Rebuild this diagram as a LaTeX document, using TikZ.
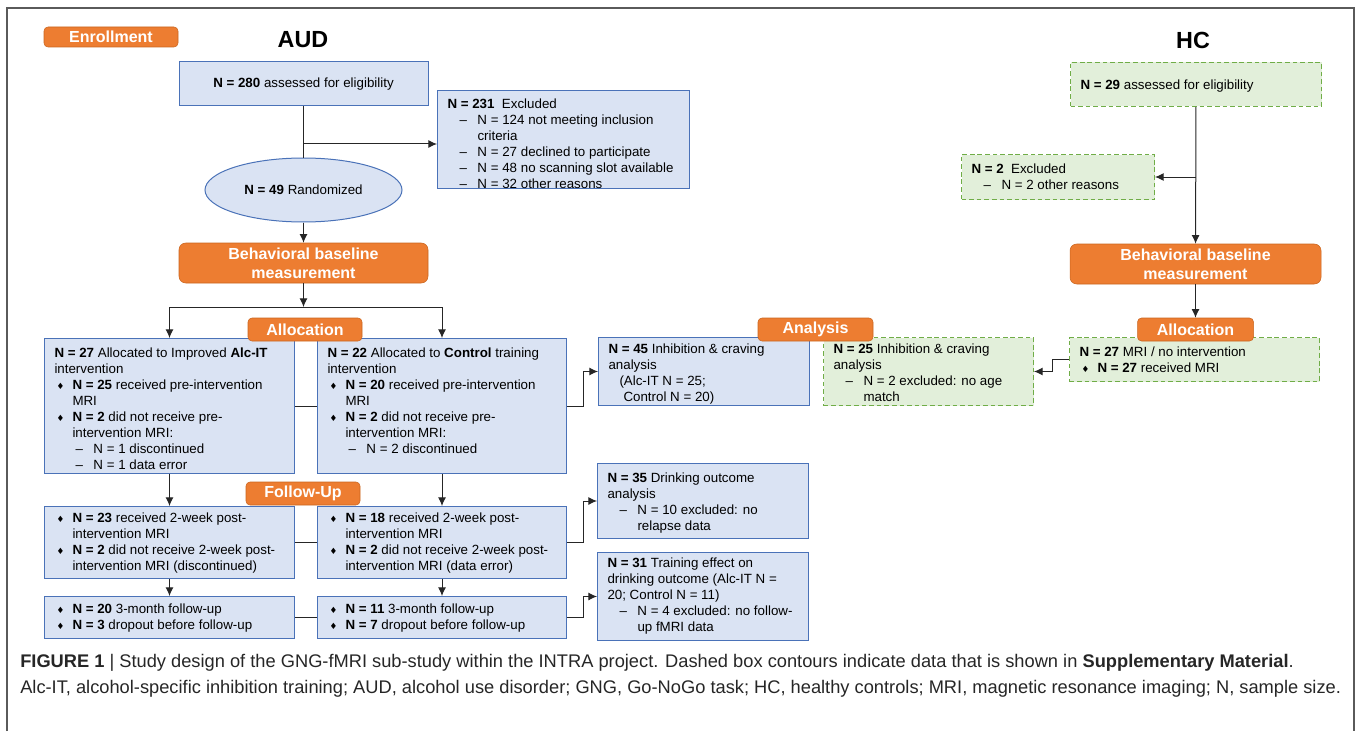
\documentclass[tikz,border=0pt]{standalone}
\usepackage{fontspec}
\setmainfont{Liberation Sans}
\newfontfamily\symfont{DejaVu Sans}
\usetikzlibrary{shapes.geometric, positioning, arrows.meta}

\definecolor{audfill}{HTML}{DAE3F3}
\definecolor{audline}{HTML}{4A72B8}
\definecolor{hcfill}{HTML}{E2EFDA}
\definecolor{hcline}{HTML}{70AD47}
\definecolor{tagfill}{HTML}{ED7D31}
\definecolor{tagline}{HTML}{C9651F}
\definecolor{framegray}{HTML}{5A5A5A}

\newcommand{\nb}[1]{\textbf{N = #1}}
\newcommand{\bl}{\makebox[13.5pt][l]{\hspace*{1.5pt}{\symfont\fontsize{6.5}{6.5}\selectfont ♦}}}
\newcommand{\ds}[1][9pt]{\hspace*{#1}\makebox[13.5pt][l]{–}}
\newcommand{\tb}[4][14pt]{\parbox[c][#3][t]{#2}{\leftskip=7.5pt\rightskip=0pt plus 1fil\rule{0pt}{#1}#4}}

\tikzset{
  audbox/.style={draw=audline, fill=audfill, line width=0.75pt, inner sep=0pt, anchor=north west, font=\fontsize{10}{12}\selectfont},
  hcbox/.style={audbox, draw=hcline, fill=hcfill, dash pattern=on 3.5pt off 2.2pt},
  stagetag/.style={draw=tagline, fill=tagfill, text=white, rounded corners=3pt, inner sep=0pt, minimum height=17.25pt, font=\bfseries\fontsize{12}{14}\selectfont},
  baseline box/.style={stagetag, rounded corners=5pt, minimum width=#1, minimum height=30pt, align=center, font=\bfseries\fontsize{12}{14.25}\selectfont},
  randnode/.style={ellipse, draw=audline, fill=audfill, line width=0.75pt, inner sep=0pt, minimum width=147.75pt, minimum height=48pt, font=\fontsize{10}{12}\selectfont},
  link/.style={draw=black!85, line width=0.75pt},
  headtxt/.style={font=\bfseries\fontsize{17.5}{20}\selectfont},
  captext/.style={anchor=base west, inner sep=0pt, text=black!85, font=\fontsize{13.7}{16}\selectfont}
}

\begin{document}
\begin{tikzpicture}[x=0.75pt, y=-0.75pt, >={Latex[length=6.5pt,width=6pt]}]
  \useasboundingbox (0,0) rectangle (1358,731);
  \draw[framegray, line width=1.2pt] (7,731) -- (7,8) -- (1354,8) -- (1354,731);

  % Headers
  \node[stagetag, minimum width=100.5pt, minimum height=15pt] (enroll) at (111,37) {Enrollment};
  \node[headtxt] (audhead) at (303,40) {AUD};
  \node[headtxt] (hchead) at (1193,40) {HC};

  % AUD enrollment
  \node[audbox, anchor=center, minimum width=186.75pt, minimum height=33pt] (elig) at (303.5,84) {\nb{280} assessed for eligibility};
  \node[audbox] (excl) at (437,90) {\tb[13.5pt]{189pt}{73.5pt}{\nb{231}\ \ Excluded\\
    \ds N = 124 not meeting inclusion\\
    \hspace*{22.5pt}criteria\\
    \ds N = 27 declined to participate\\
    \ds N = 48 no scanning slot available\\
    \ds N = 32 other reasons}};
  \node[randnode] (rand) at (303.5,190) {\nb{49} Randomized};
  \node[baseline box=186.75pt] (behav) at (303.5,263) {Behavioral baseline\\measurement};

  % AUD allocation
  \node[audbox] (alcit) at (44,338) {\tb{187.5pt}{101.25pt}{\nb{27} Allocated to Improved \textbf{Alc-IT}\\
    intervention\\
    \bl\nb{25} received pre-intervention\\
    \hspace*{13.5pt}MRI\\
    \bl\nb{2} did not receive pre-\\
    \hspace*{13.5pt}intervention MRI:\\
    \ds[15.75pt]N = 1 discontinued\\
    \ds[15.75pt]N = 1 data error}};
  \node[audbox, right=16.5pt of alcit] (ctrl) {\tb{186.75pt}{101.25pt}{\nb{22} Allocated to \textbf{Control} training\\
    intervention\\
    \bl\nb{20} received pre-intervention\\
    \hspace*{13.5pt}MRI\\
    \bl\nb{2} did not receive pre-\\
    \hspace*{13.5pt}intervention MRI:\\
    \ds[15.75pt]N = 2 discontinued}};

  % AUD follow-up
  \node[audbox, below=24pt of alcit] (alcit2w) {\tb[12pt]{187.5pt}{54pt}{\bl\nb{23} received 2-week post-\\
    \hspace*{13.5pt}intervention MRI\\
    \bl\nb{2} did not receive 2-week post-\\
    \hspace*{13.5pt}intervention MRI (discontinued)}};
  \node[audbox, right=16.5pt of alcit2w] (ctrl2w) {\tb[12pt]{186.75pt}{54pt}{\bl\nb{18} received 2-week post-\\
    \hspace*{13.5pt}intervention MRI\\
    \bl\nb{2} did not receive 2-week post-\\
    \hspace*{13.5pt}intervention MRI (data error)}};
  \node[audbox, below=12.75pt of alcit2w] (alcit3m) {\tb[13pt]{187.5pt}{31.5pt}{\bl\nb{20} 3-month follow-up\\
    \bl\nb{3} dropout before follow-up}};
  \node[audbox, right=16.5pt of alcit3m] (ctrl3m) {\tb[13pt]{186.75pt}{31.5pt}{\bl\nb{11} 3-month follow-up\\
    \bl\nb{7} dropout before follow-up}};

  % Analysis
  \node[audbox] (ana45) at (598,337) {\tb[12pt]{158.25pt}{51pt}{\nb{45} Inhibition \& craving\\
    analysis\\
    \hspace*{8.25pt}(Alc-IT N = 25;\\
    \hspace*{11.25pt}Control N = 20)}};
  \node[hcbox] (hc25) at (823,337) {\tb[12pt]{157.5pt}{51pt}{\nb{25} Inhibition \& craving\\
    analysis\\
    \ds N = 2 excluded: no age\\
    \hspace*{22.5pt}match}};
  \node[audbox] (out35) at (597,463) {\tb{158.25pt}{56.25pt}{\nb{35} Drinking outcome\\
    analysis\\
    \ds N = 10 excluded: no\\
    \hspace*{22.5pt}relapse data}};
  \node[audbox, below=9.75pt of out35] (out31) {\tb[11.5pt]{158.25pt}{66pt}{\nb{31} Training effect on\\
    drinking outcome (Alc-IT N =\\
    20; Control N = 11)\\
    \ds N = 4 excluded: no follow-\\
    \hspace*{22.5pt}up fMRI data}};

  % HC column
  \node[hcbox] (hcelig) at (1070,62) {\tb[20pt]{188.25pt}{33pt}{\nb{29} assessed for eligibility}};
  \node[hcbox] (hcexcl) at (961,154) {\tb{144.75pt}{33.75pt}{\nb{2}\ \ Excluded\\
    \ds N = 2 other reasons}};
  \node[baseline box=188.25pt] (hcbehav) at (1195.5,264) {Behavioral baseline\\measurement};
  \node[hcbox] (hcalloc) at (1069,337) {\tb[14.5pt]{187.5pt}{33pt}{\nb{27} MRI / no intervention\\
    \bl\nb{27} received MRI}};

  % Stage labels
  \node[stagetag, minimum width=85.5pt] (alloctag) at (305,329.5) {Allocation};
  \node[stagetag, minimum width=86.25pt] (anatag) at (815.5,329.5) {Analysis};
  \node[stagetag, minimum width=87pt] (hcalloctag) at (1195.5,329.5) {Allocation};
  \node[stagetag, minimum width=85.5pt] (futag) at (303,493.5) {Follow-Up};

  % Connectors AUD
  \coordinate (exbr) at (303.5,144);
  \coordinate (split) at (303.5,307);
  \draw[link] (elig) -- (rand);
  \draw[link, ->] (exbr) -- (exbr -| excl.west);
  \draw[link, ->] (rand) -- (behav);
  \draw[link, ->] (behav) -- (split);
  \draw[link, ->] (split) -| (alcit.north);
  \draw[link, ->] (split) -| (ctrl.north);
  \draw[link] (alcit.east) -- (ctrl.west);
  \draw[link, ->] (ctrl.east) -- ++(16,0) |- (ana45.west);
  \draw[link, ->] (alcit) -- (alcit2w);
  \draw[link, ->] (ctrl) -- (ctrl2w);
  \draw[link] (alcit2w.east) -- (ctrl2w.west);
  \draw[link, ->] (ctrl2w.east) -- ++(16,0) |- (out35.west);
  \draw[link, ->] (alcit2w) -- (alcit3m);
  \draw[link, ->] (ctrl2w) -- (ctrl3m);
  \draw[link] (alcit3m.east) -- (ctrl3m.west);
  \draw[link, ->] (ctrl3m.east) -- ++(16,0) |- (out31.west);

  % Connectors HC
  \coordinate (hcbr) at (1195.5,177);
  \draw[link, ->] (hcelig) -- (hcbehav);
  \draw[link, ->] (hcbr) -- (hcbr -| hcexcl.east);
  \draw[link, ->] (hcbehav) -- (hcalloctag);
  \draw[link, ->] (hcalloc.west) -- ++(-17,0) |- (hc25.east);

  % Caption
  \node[captext] (cap1) at (20,667) {\textbf{FIGURE 1} | Study design of the GNG-fMRI sub-study within the INTRA project. Dashed box contours indicate data that is shown in \textbf{Supplementary Material}.};
  \node[captext] (cap2) at (20,693) {Alc-IT, alcohol-specific inhibition training; AUD, alcohol use disorder; GNG, Go-NoGo task; HC, healthy controls; MRI, magnetic resonance imaging; N, sample size.};
\end{tikzpicture}
\end{document}
